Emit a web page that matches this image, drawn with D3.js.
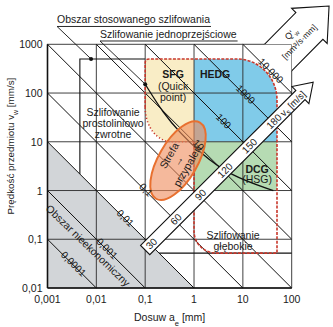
<!DOCTYPE html>
<html><head><meta charset="utf-8">
<script src="https://cdn.jsdelivr.net/npm/d3@7/dist/d3.min.js"></script>
<style>
html,body{margin:0;padding:0;background:#fff;overflow:hidden}
svg{display:block}
text{font-family:"Liberation Sans",Arial,Helvetica,sans-serif;fill:#1a1a1a}
</style></head><body>
<svg id="c" width="333" height="327"></svg>
<script>
// ---------------- data ----------------
const xTickValues = [0.001, 0.01, 0.1, 1, 10, 100];
const xTickLabels = ["0,001", "0,01", "0,1", "1", "10", "100"];
const yTickValues = [0.01, 0.1, 1, 10, 100, 1000];
const yTickLabels = ["0,01", "0,1", "1", "10", "100", "1000"];
const qValues  = [0.0001, 0.001, 0.01, 0.1, 1, 10, 100, 1000, 10000];
const qLabels  = ["0,0001", "0,001", "0,01", "0,1", "", "10", "100", "1000", "10 000"];
const qLabelAe = [0.0033, 0.016, 0.038, 0.1, null, 1.2, 3.9, 11, 36];
const vsValues = [30, 60, 90, 120, 150, 180];
const vsLabels = ["30", "60", "90", "120", "150", "180"];
const vsArrow  = [[0.1, 0.06], [275, 166]];      // tail, tip  (a_e, v_w)
const qArrow   = [[17.7, 177], [582, 6110]];
// regions (a_e [mm], v_w [mm/s])
const grayRegion    = [[0.001, 10], [1, 0.01], [0.001, 0.01]];
const appliedLeft   = [[0.0046, 2.17], [0.0046, 500], [0.1, 500]];
const appliedBottom = [[0.192, 0.052], [100, 0.052]];
const sfgBox  = {a0: 0.1, a1: 1, v0: 10, v1: 500};
const hedgBox = {a0: 1, a1: 50, v0: 10, v1: 500};
const dcgBox  = {a0: 1, a1: 50, v0: 1, v1: 10};
const deepBottomV = 0.052;
const sfgCut = {a: 0.35, v: 50};
const singlePassCurve = [[0.1, 152], [0.233, 39], [0.52, 15.2], [1.33, 6.0], [5.5, 2.0], [42, 1.0]];
const burnZoneCenter = [0.47, 4.1];
const regionLabels = [
  {lines: ["SFG"], at: [0.373, 244], bold: true},
  {lines: ["(Quick", "point)"], at: [0.373, 139], bold: false},
  {lines: ["HEDG"], at: [2.7, 244], bold: true},
  {lines: ["DCG"], at: [19.6, 2.8], bold: true},
  {lines: ["(HSG)"], at: [19.6, 1.7], bold: false},
  {lines: ["Szlifowanie", "prostoliniowo", "zwrotne"], at: [0.022, 40], bold: false},
  {lines: ["Szlifowanie", "głębokie"], at: [6.3, 0.12], bold: false}
];
const noEconLabel = {text: "Obszar nieekonomiczny", at: [0.0068, 0.075]};
const topNotes = [
  {text: "Obszar stosowanego szlifowania", start: [0.00157, 2700], dot: [0.0078, 500]},
  {text: "Szlifowanie jednoprzejściowe", start: [0.0119, 1360], dot: [0.1, 152]}
];

// ---------------- scales ----------------
const svg = d3.select("#c");
const x = d3.scaleLog().domain([0.001, 100]).range([47.5, 291.7]);
const y = d3.scaleLog().domain([0.01, 1000]).range([288, 44.3]);
const P = d => [x(d[0]), y(d[1])];
const line = d3.line().x(d => x(d[0])).y(d => y(d[1]));

// clip: everything outside plot rectangle
svg.append("defs").append("clipPath").attr("id", "outside").append("path")
  .attr("clip-rule", "evenodd")
  .attr("d", `M0,0H333V327H0Z M${x(0.001)},${y(1000)}H${x(100)}V${y(0.01)}H${x(0.001)}Z`);

// gray region
svg.append("path").attr("d", line(grayRegion) + "Z").attr("fill", "#d2d5d8");

// coloured regions
const X0 = x(sfgBox.a0), X1 = x(sfgBox.a1), X2 = x(hedgBox.a1);
const Yt = y(sfgBox.v1), Y10 = y(sfgBox.v0);
const Ys = y(sfgCut.v), Xc = x(sfgCut.a);
const R = 40, R2 = 41, r0 = 4, rd = 22;
svg.append("path")
  .attr("d", `M${X0},${Yt + r0}Q${X0},${Yt} ${X0 + r0},${Yt}L${X1},${Yt}L${X1},${Y10}L${Xc},${Y10}A${Xc - X0} ${Y10 - Ys} 0 0 1 ${X0},${Ys}Z`)
  .attr("fill", "#f9edc6");
svg.append("path")
  .attr("d", `M${X1},${Yt}L${X2 - R},${Yt}A${R} ${R2} 0 0 1 ${X2},${Yt + R2}L${X2},${Y10}L${X1},${Y10}Z`)
  .attr("fill", "#80cbe9");
svg.append("rect").attr("x", x(dcgBox.a0)).attr("y", y(dcgBox.v1))
  .attr("width", x(dcgBox.a1) - x(dcgBox.a0)).attr("height", y(dcgBox.v0) - y(dcgBox.v1))
  .attr("fill", "#b6dbb3");

// grid
const grid = svg.append("g").attr("stroke", "#2b2b2b").attr("stroke-width", 0.9);
xTickValues.forEach(v => grid.append("line").attr("x1", x(v)).attr("x2", x(v)).attr("y1", y(0.01)).attr("y2", y(1000)));
yTickValues.forEach(v => grid.append("line").attr("y1", y(v)).attr("y2", y(v)).attr("x1", x(0.001)).attr("x2", x(100)));
svg.append("line").attr("x1", x(0.001)).attr("x2", x(0.001)).attr("y1", y(0.01)).attr("y2", y(1000)).attr("stroke", "#111").attr("stroke-width", 1.6);
svg.append("line").attr("x1", x(0.001)).attr("x2", x(100)).attr("y1", y(0.01)).attr("y2", y(0.01)).attr("stroke", "#111").attr("stroke-width", 1.6);

// diagonals Q'w = a_e * v_w
const dg = svg.append("g").attr("stroke", "#111").attr("stroke-width", 1);
qValues.forEach(q => {
  const a0 = Math.max(0.001, q / 1000), a1 = Math.min(100, q / 0.01);
  if (a0 < a1) dg.append("path").attr("d", line([[a0, q / a0], [a1, q / a1]]));
});

// applied grinding area (black)
svg.append("path").attr("d", line(appliedLeft)).attr("fill", "none").attr("stroke", "#111").attr("stroke-width", 1.1);
svg.append("path").attr("d", line(appliedBottom)).attr("fill", "none").attr("stroke", "#111").attr("stroke-width", 1.1);

// red outline
const Yb = y(deepBottomV);
svg.append("path")
  .attr("d", `M${X0},${Ys}L${X0},${Yt + r0}Q${X0},${Yt} ${X0 + r0},${Yt}L${X2 - R},${Yt}A${R} ${R2} 0 0 1 ${X2},${Yt + R2}L${X2},${Yb}L${X1 + rd},${Yb}A${rd} ${rd} 0 0 1 ${X1},${Yb - rd}L${X1},${Y10}`)
  .attr("fill", "none").attr("stroke", "#c8372b").attr("stroke-width", 1.6).attr("stroke-dasharray", "3 1.4");
svg.append("path")
  .attr("d", `M${X0},${Ys}A${Xc - X0} ${Y10 - Ys} 0 0 0 ${Xc},${Y10}L${X1},${Y10}`)
  .attr("fill", "none").attr("stroke", "#c8372b").attr("stroke-width", 1.6).attr("stroke-dasharray", "1.2 2.2");

// single-pass curve
svg.append("path").attr("d", d3.line().x(d => x(d[0])).y(d => y(d[1])).curve(d3.curveBasis)(singlePassCurve))
  .attr("fill", "none").attr("stroke", "#111").attr("stroke-width", 1.3);

// burn zone ellipse
const ec = P(burnZoneCenter);
const eg = svg.append("g").attr("transform", `translate(${ec[0]},${ec[1]}) rotate(-60)`);
eg.append("ellipse").attr("rx", 44).attr("ry", 19.5).attr("fill", "#ee8a5a").attr("fill-opacity", 0.6)
  .attr("stroke", "#e8702f").attr("stroke-width", 2);
["Strefa", "→", "przypaleń"].forEach((t, i) => eg.append("text").attr("x", 0).attr("y", (i - 1) * 10.5)
  .attr("text-anchor", "middle").attr("dominant-baseline", "central").attr("font-size", 10.5).text(t));

// arrows
function arrowPoly(p0, p1, w, hw, hl) {
  const dx = p1[0] - p0[0], dy = p1[1] - p0[1], L = Math.hypot(dx, dy);
  const u = [dx / L, dy / L], n = [-u[1], u[0]];
  const at = (s, t) => [p0[0] + u[0] * s + n[0] * t, p0[1] + u[1] * s + n[1] * t];
  return {pts: [at(0, -w), at(L - hl, -w), at(L - hl, -hw), at(L, 0), at(L - hl, hw), at(L - hl, w), at(0, w)],
          at, ang: Math.atan2(dy, dx) * 180 / Math.PI, L};
}
const va = arrowPoly(P(vsArrow[0]), P(vsArrow[1]), 6.5, 12, 18);
svg.append("polygon").attr("points", va.pts.map(p => p.join(",")).join(" "))
  .attr("fill", "#fff").attr("stroke", "#111").attr("stroke-width", 1.1);
const vsPos = d3.scaleLinear().domain([30, 180]).range([9, 182]);
vsValues.forEach((v, i) => {
  const p = va.at(vsPos(v), 0);
  svg.append("text").attr("transform", `translate(${p[0]},${p[1]}) rotate(${va.ang})`)
    .attr("text-anchor", "middle").attr("dominant-baseline", "central").attr("font-size", 10).text(vsLabels[i]);
});
{
  const p = va.at(208, 0);
  const t = svg.append("text").attr("transform", `translate(${p[0]},${p[1]}) rotate(${va.ang})`)
    .attr("text-anchor", "middle").attr("dominant-baseline", "central").attr("font-size", 9.5);
  t.append("tspan").text("v");
  t.append("tspan").attr("font-size", 7).attr("baseline-shift", "sub").text("s");
  t.append("tspan").text(" [m/s]");
}
const qa = arrowPoly(P(qArrow[0]), P(qArrow[1]), 19, 25, 28);
svg.append("polygon").attr("points", qa.pts.map(p => p.join(",")).join(" "))
  .attr("clip-path", "url(#outside)")
  .attr("fill", "#fff").attr("stroke", "#111").attr("stroke-width", 1.1);
{
  const p = qa.at(59, -1.5);
  const g = svg.append("g").attr("transform", `translate(${p[0]},${p[1]}) rotate(${qa.ang})`);
  const t1 = g.append("text").attr("y", -6).attr("text-anchor", "middle").attr("dominant-baseline", "central").attr("font-size", 9);
  t1.append("tspan").text("Q'");
  t1.append("tspan").attr("font-size", 6.5).attr("baseline-shift", "sub").text("w");
  g.append("text").attr("y", 5.5).attr("text-anchor", "middle").attr("dominant-baseline", "central").attr("font-size", 8.5).text("[mm³/s·mm]");
}

// diagonal labels
qValues.forEach((q, i) => {
  if (!qLabels[i]) return;
  const a = qLabelAe[i], p = P([a, q / a]);
  svg.append("text").attr("transform", `translate(${p[0]},${p[1]}) rotate(45)`)
    .attr("text-anchor", "middle").attr("y", 2.5).attr("font-size", 10).text(qLabels[i]);
});

// region labels
regionLabels.forEach(l => {
  const p = P(l.at);
  l.lines.forEach((t, i) => svg.append("text").attr("x", p[0]).attr("y", p[1] + i * 11)
    .attr("text-anchor", "middle").attr("dominant-baseline", "central")
    .attr("font-size", 10.5).attr("font-weight", l.bold ? "bold" : null).text(t));
});
{
  const p = P(noEconLabel.at);
  svg.append("text").attr("transform", `translate(${p[0]},${p[1]}) rotate(44)`)
    .attr("text-anchor", "middle").attr("dominant-baseline", "central").attr("font-size", 10.5).text(noEconLabel.text);
}

// top annotations with leaders
topNotes.forEach(n => {
  const s = P(n.start), d = P(n.dot);
  const t = svg.append("text").attr("x", s[0]).attr("y", s[1]).attr("font-size", 10.5).text(n.text);
  const w = t.node().getComputedTextLength();
  svg.append("line").attr("x1", s[0]).attr("x2", s[0] + w + 1).attr("y1", s[1] + 3.2).attr("y2", s[1] + 3.2).attr("stroke", "#111").attr("stroke-width", 0.9);
  svg.append("line").attr("x1", s[0]).attr("y1", s[1] + 3.2).attr("x2", d[0]).attr("y2", d[1]).attr("stroke", "#111").attr("stroke-width", 0.9);
  svg.append("circle").attr("cx", d[0]).attr("cy", d[1]).attr("r", 2).attr("fill", "#111");
});

// axis tick labels
xTickValues.forEach((v, i) => svg.append("text").attr("x", x(v)).attr("y", y(0.01) + 15)
  .attr("text-anchor", "middle").attr("font-size", 10.5).text(xTickLabels[i]));
yTickValues.forEach((v, i) => svg.append("text").attr("x", x(0.001) - 5).attr("y", y(v))
  .attr("text-anchor", "end").attr("dominant-baseline", "central").attr("font-size", 10.5).text(yTickLabels[i]));

// axis titles
{
  const t = svg.append("text").attr("x", (x(0.001) + x(100)) / 2).attr("y", 321).attr("text-anchor", "middle").attr("font-size", 10.5);
  t.append("tspan").text("Dosuw a");
  t.append("tspan").attr("font-size", 7.5).attr("baseline-shift", "sub").text("e");
  t.append("tspan").text(" [mm]");
  const t2 = svg.append("text").attr("transform", `translate(14,${(y(0.01) + y(1000)) / 2 - 20}) rotate(-90)`)
    .attr("text-anchor", "middle").attr("font-size", 9.8);
  t2.append("tspan").text("Prędkość przedmiotu v");
  t2.append("tspan").attr("font-size", 7).attr("baseline-shift", "sub").text("w");
  t2.append("tspan").text(" [mm/s]");
}
</script>
</body></html>
